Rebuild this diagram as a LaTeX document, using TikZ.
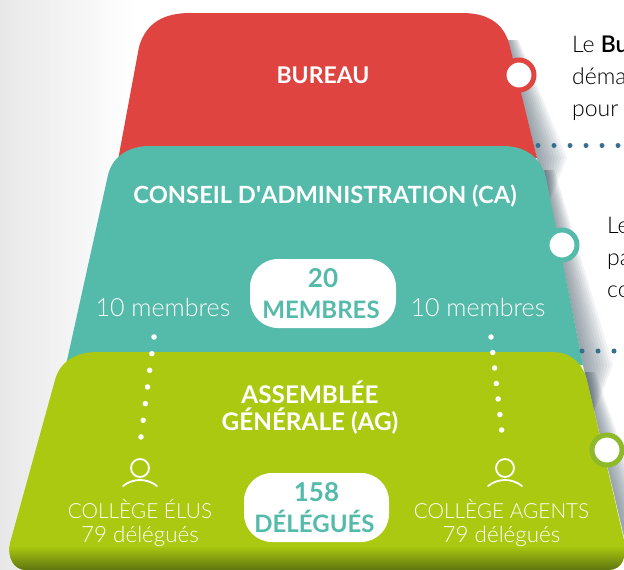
\documentclass[tikz,border=0pt]{standalone}
\usepackage{fontspec}
\setmainfont{Lato}
\newfontfamily\lightf{Lato Light}
\definecolor{redc}{HTML}{E04440}
\definecolor{tealc}{HTML}{54BAA9}
\definecolor{greenc}{HTML}{AAC910}
\definecolor{greenring}{HTML}{8DB92B}
\definecolor{darkolive}{HTML}{5F7410}
\definecolor{dotblue}{HTML}{38708F}
\definecolor{shadowc}{HTML}{4F606E}
\definecolor{sidegrey}{HTML}{E8E8E8}
\tikzset{
  x=1pt,y=-1pt,
  title/.style={text=white,font=\bfseries\fontsize{23.7}{27}\selectfont,align=center,inner sep=0},
  thin label/.style={text=white,font=\lightf\fontsize{25}{24}\selectfont,align=center,inner sep=0},
  side/.style={text=black,font=\lightf\fontsize{23}{32}\selectfont,anchor=base west,inner sep=0},
  pill/.style={fill=white,rounded corners=28pt,inner sep=0,minimum height=69pt,text=tealc,align=center,font=\bfseries\fontsize{24}{32}\selectfont},
  ring/.style={circle,fill=white,draw=#1,line width=5pt,minimum size=30pt,inner sep=0},
  whitedots/.style={draw=white,line width=5.5pt,line cap=round,dash pattern=on 0pt off #1},
  bluedots/.style={draw=dotblue,line width=5pt,line cap=round,dash pattern=on 0pt off 16pt},
  person/.style={draw=white,line width=1.8pt,line cap=round},
}
% tapered soft shadow to the right of an edge from (#1,#2) to (#3,#4), running out behind the next tier
\newcommand{\edgeshadow}[4]{%
  \foreach \w in {3,6,9,12,15,18,21,24,27,30}{
    \fill[shadowc,opacity=.075] (#1,#2) -- (#3,#4) -- (#3+10,#4+50) -- (#3+\w,#4) -- (#1+0.35*\w,#2) -- cycle;
  }}
\newcommand{\personicon}[2]{%
  \draw[person] (#1,#2) circle[radius=9];
  \draw[person] (#1-17,#2+18) .. controls (#1-7,#2+10) and (#1+7,#2+10) .. (#1+17,#2+18);
}
\newcommand{\collegelabel}[2]{{\fontsize{20.8}{24}\selectfont #1}\\{\fontsize{22.4}{24}\selectfont #2}}
\begin{document}
\begin{tikzpicture}
\useasboundingbox (0,0) rectangle (624,570);
\fill[white] (0,0) rectangle (624,570);
\shade[left color=sidegrey,right color=white] (0,0) rectangle (135,570);
% red
\edgeshadow{508}{40}{537}{158}
\fill[redc] (118,160) -- (139,47) .. controls (146,22) and (165,13) .. (190,13)
  -- (462,13) .. controls (490,13) and (505,25) .. (510,47) -- (537,158) -- cycle;
% teal
\edgeshadow{544}{170}{583}{365}
\fill[tealc] (66,365) -- (108,175) .. controls (113,155) and (130,146) .. (150,146)
  -- (503,146) .. controls (526,146) and (541,158) .. (546,178) -- (583,365) -- cycle;
% green
\edgeshadow{585}{372}{626}{545}
\begin{scope}
\clip (10,543) -- (55,380) .. controls (60,362) and (75,352) .. (97,352)
  -- (552,352) .. controls (570,352) and (582,362) .. (587,380)
  -- (624,540) .. controls (627,558) and (622,570) .. (608,570)
  -- (26,570) .. controls (14,570) and (7,558) .. (10,543) -- cycle;
\fill[greenc] (0,340) rectangle (630,570);
\shade[top color=greenc,bottom color=darkolive] (0,546) rectangle (630,570);
\end{scope}
% dotted leaders
\coordinate (b1s) at (538,145.5); \coordinate (b1e) at (626,145.5);
\coordinate (b2s) at (582,351); \coordinate (b2e) at (626,351);
\draw[bluedots] (b1s) -- (b1e);
\draw[bluedots] (b2s) -- (b2e);
% rings
\node[ring=redc] (rr) at (519,75) {};
\node[ring=tealc] (rt) at (562,245) {};
\node[ring=greenring] (rg) at (607,450) {};
% titles
\node[title,font=\bfseries\fontsize{23}{27}\selectfont] (bureau) at (323,75) {BUREAU};
\node[title] (ca) at (325,196) {CONSEIL D\textquotesingle ADMINISTRATION (CA)};
\node[title,font=\bfseries\fontsize{24.3}{27}\selectfont] (ag) at (310,407.5) {ASSEMBLÉE\\GÉNÉRALE (AG)};
% pills
\node[pill,minimum width=146pt] (p20) at (323,293.5) {{\fontsize{26}{32}\selectfont 20}\\[-.5pt]\hspace*{-4pt}MEMBRES};
\node[pill,minimum width=145pt] (p158) at (316.5,507.5) {{\fontsize{26}{32}\selectfont 158}\\[-.5pt]\hspace*{-4pt}DÉLÉGUÉS};
% labels
\node[thin label] (ml) at (163,308) {10 membres};
\node[thin label] (mr) at (478,308) {10 membres};
\coordinate (dl1) at (154,337); \coordinate (dl2) at (141,437);
\coordinate (dr1) at (491,337); \coordinate (dr2) at (501.7,430);
\draw[whitedots=16.8pt] (dl1) -- (dl2);
\draw[whitedots=15.6pt] (dr1) -- (dr2);
\personicon{140}{468}
\personicon{505}{468}
\node[thin label] (ce) at (140,523) {\collegelabel{COLLÈGE ÉLUS}{79 délégués}};
\node[thin label] (ca2) at (501.5,523) {\collegelabel{COLLÈGE AGENTS}{79 délégués}};
% side texts, cut by the page edge
\node[side] (t1) at (572,52) {Le \textbf{Bu}};
\node[side] (t2) at (572,84) {déma};
\node[side] (t3) at (572,116) {pour};
\node[side] (t4) at (607,233) {Le};
\node[side] (t5) at (607,265) {pa};
\node[side] (t6) at (607,297) {co};
\end{tikzpicture}
\end{document}
